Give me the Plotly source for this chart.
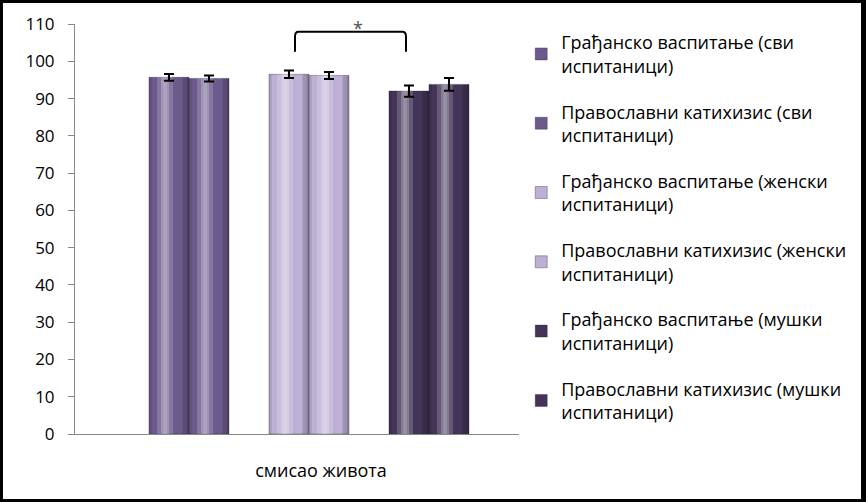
import plotly.graph_objects as go

# values
category = ["смисао живота"]
series_names = [
    "Грађанско васпитање (сви<br>испитаници)",
    "Православни катихизис (сви<br>испитаници)",
    "Грађанско васпитање (женски<br>испитаници)",
    "Православни катихизис (женски<br>испитаници)",
    "Грађанско васпитање (мушки<br>испитаници)",
    "Православни катихизис (мушки<br>испитаници)",
]
means = [95.7, 95.4, 96.5, 96.2, 92.0, 93.8]
errors = [0.9, 0.8, 1.0, 0.95, 1.5, 1.7]
colors = ["#6d5a8c", "#6d5a8c", "#bdb0d4", "#bdb0d4", "#443558", "#443558"]

FONT = "Open Sans"
BARGAP = 0.2793
slots = [0, 1, 3, 4, 6, 7]          # 8 slots in the group, 2 of them left empty
slot_w = (1 - BARGAP) / 8
group_left = -(1 - BARGAP) / 2
# (from, to, colour) stripes across each bar to fake the cylinder look
shading = [
    (0.00, 0.07, "rgba(0,0,0,0.10)"),
    (0.20, 0.60, "rgba(255,255,255,0.18)"),
    (0.30, 0.50, "rgba(255,255,255,0.22)"),
    (0.36, 0.44, "rgba(255,255,255,0.15)"),
    (0.84, 1.00, "rgba(0,0,0,0.16)"),
    (0.94, 1.00, "rgba(0,0,0,0.12)"),
]

fig = go.Figure()
for i, (name, m, c) in enumerate(zip(series_names, means, colors)):
    fig.add_trace(go.Bar(
        x=category, y=[m], name=name, legendgroup=str(i),
        marker=dict(color=c, line=dict(color="rgba(40,30,60,0.35)", width=1)),
    ))
    if i in (1, 3):
        fig.add_trace(go.Bar(x=category, y=[0], showlegend=False, hoverinfo="skip",
                             marker=dict(opacity=0, line=dict(width=0))))

for i, m in enumerate(means):
    left = group_left + slots[i] * slot_w
    for a, b, sc in shading:
        fig.add_trace(go.Bar(
            x=category, y=[m], offset=left + a * slot_w, width=(b - a) * slot_w,
            marker=dict(color=sc, line=dict(width=0)),
            showlegend=False, hoverinfo="skip",
        ))

# error bars on an overlaid copy of the axis so they sit above the shading
for i, (m, e) in enumerate(zip(means, errors)):
    fig.add_trace(go.Bar(
        x=category, y=[m], xaxis="x2", showlegend=False, hoverinfo="skip",
        marker=dict(color="rgba(0,0,0,0)", line=dict(width=0)),
        error_y=dict(type="data", array=[e], color="black", thickness=2, width=5),
    ))
    if i in (1, 3):
        fig.add_trace(go.Bar(x=category, y=[0], xaxis="x2", showlegend=False,
                             hoverinfo="skip", marker=dict(opacity=0, line=dict(width=0))))

# white page inside a black frame
fig.add_shape(type="rect", xref="paper", yref="paper",
              x0=-0.1622, x1=1.7703, y0=-0.1585, y1=1.0512,
              fillcolor="white", line=dict(width=0), layer="below")

# significance bracket
x0, x1, yt, yb, rx, ry = 0.4955, 0.7455, 0.9812, 0.9324, 0.008, 0.012
fig.add_shape(type="path", xref="paper", yref="paper",
              path=f"M {x0},{yb} L {x0},{yt-ry} Q {x0},{yt} {x0+rx},{yt} "
                   f"L {x1-rx},{yt} Q {x1},{yt} {x1},{yt-ry} L {x1},{yb}",
              line=dict(color="black", width=2))
fig.add_annotation(text="*", xref="paper", yref="paper", x=0.637, y=1.025,
                   showarrow=False, font=dict(family=FONT, size=18, color="#505050"))

xrange = [-0.527, 0.473]
fig.update_layout(
    width=866, height=502,
    margin=dict(l=75, r=347, t=24, b=68),
    paper_bgcolor="black", plot_bgcolor="white",
    barmode="group", bargap=BARGAP, bargroupgap=0,
    font=dict(family=FONT, size=17, color="black"),
    legend=dict(x=1.005, y=1.0, xanchor="left", yanchor="top", maxheight=490,
                bgcolor="rgba(0,0,0,0)", tracegroupgap=19.5,
                font=dict(family=FONT, size=18, color="black")),
    xaxis=dict(type="category", range=xrange, showline=True, linecolor="#868686",
               linewidth=1, ticks="", showgrid=False, ticklabelshift=12,
               ticklabelstandoff=20, tickfont=dict(size=18)),
    xaxis2=dict(type="category", range=xrange, overlaying="x", visible=False),
    yaxis=dict(range=[0, 110], dtick=10, showline=True, linecolor="#868686", linewidth=1,
               ticks="outside", ticklen=6, tickcolor="#868686", showgrid=False,
               zeroline=False, ticklabelstandoff=10),
)

fig.write_html("out.html", config={"displayModeBar": False},
               post_script="document.body.style.margin='0';")
